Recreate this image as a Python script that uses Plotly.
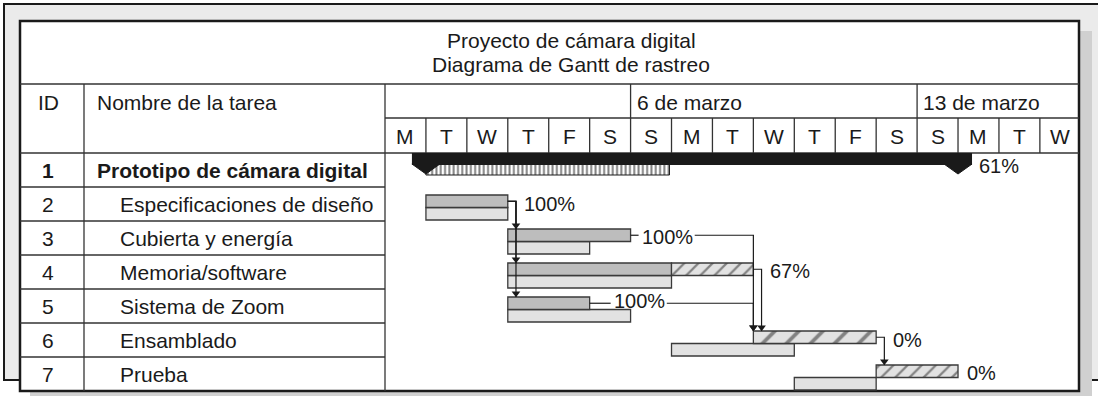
import plotly.graph_objects as go

# ---------------- data ----------------
title_lines = ["Proyecto de cámara digital", "Diagrama de Gantt de rastreo"]
header_id = "ID"
header_name = "Nombre de la tarea"
task_ids = [1, 2, 3, 4, 5, 6, 7]
task_names = ["Prototipo de cámara digital", "Especificaciones de diseño",
              "Cubierta y energía", "Memoria/software", "Sistema de Zoom",
              "Ensamblado", "Prueba"]
day_letters = ["M", "T", "W", "T", "F", "S", "S", "M", "T", "W", "T", "F", "S",
               "S", "M", "T", "W"]
week_labels = ["6 de marzo", "13 de marzo"]
week_start_day = [6, 13]

# days counted from the first Monday column (day 0)
act_start = [1, 1, 3, 3, 3, 9, 12]
act_done = [6.95, 3, 6, 7, 5, 9, 12]
act_end = [14, 3, 6, 9, 5, 12, 14]
base_start = [None, 1, 3, 3, 3, 7, 10]
base_end = [None, 3, 5, 7, 6, 10, 12]
pct_complete = [61, 100, 100, 67, 100, 0, 0]
links = [(2, 3), (2, 4), (2, 5), (3, 6), (4, 6), (5, 6), (6, 7)]

# ---------------- layout constants (pixels) ----------------
W, H = 1098, 396
X0, DAY = 385, 40.93      # timeline left edge, day width
Y0, ROW = 153, 34         # first task row top, row height
FONT = "Liberation Sans, Arial, Helvetica, sans-serif"
INK = "#1a1a1a"
GRID = "#333333"
FS = 21
LFS = 20
label_gap_px = [20, 15, 10, 16, 23, 16, 8]
label_dy_px = [13, 16.5, 16, 16, 11.5, 17, 15.5]
hatch_size = [10, 10, 10, 10, 10, 17, 10]


def xd(p):
    return (p - X0) / DAY


def yr(p):
    return (p - Y0) / ROW


def pw(p):
    return p / DAY


def ph(p):
    return p / ROW


shapes = []


def rect(x0, y0, x1, y1, fill, lc=None, lw=0):
    shapes.append(dict(type="rect", xref="x", yref="y", x0=xd(x0), x1=xd(x1),
                       y0=yr(y0), y1=yr(y1), fillcolor=fill,
                       line=dict(color=lc or fill, width=lw), layer="below"))


def seg(x0, y0, x1, y1, w=1.3, c=GRID):
    shapes.append(dict(type="line", xref="x", yref="y", x0=xd(x0), x1=xd(x1),
                       y0=yr(y0), y1=yr(y1), line=dict(color=c, width=w),
                       layer="below"))


# page behind, drop shadow, front sheet
rect(4, 4, 1120, 380, "#ebebeb", INK, 2)
rect(30, 31, 1092, 402, "#d0d0d0")
rect(20, 21, 1079, 391, "white", INK, 2.5)

# table grid
seg(20, 84, 1079, 84)
seg(X0, 118, 1079, 118)
seg(20, 153, 1079, 153)
for k in range(1, len(task_ids)):
    seg(20, Y0 + ROW * k, X0, Y0 + ROW * k)
seg(84, 84, 84, 391)
seg(X0, 84, X0, 391)
for k in range(1, len(day_letters)):
    seg(X0 + DAY * k, 118, X0 + DAY * k, 153)
for ws in week_start_day:
    seg(X0 + DAY * ws, 84, X0 + DAY * ws, 118)

annotations = []


def text(x, y, s, anchor="center", size=FS, **kw):
    annotations.append(dict(x=xd(x), y=yr(y), xref="x", yref="y", text=s,
                            showarrow=False, xanchor=anchor, yanchor="middle",
                            font=dict(family=FONT, size=size, color=INK), **kw))


text(571, 40, title_lines[0])
text(571, 64, title_lines[1])
text(48, 102, header_id)
text(95, 102, header_name, "left")
for lab, ws in zip(week_labels, week_start_day):
    text(X0 + DAY * ws + 4, 102, lab, "left")
for k, d in enumerate(day_letters):
    text(X0 + DAY * (k + 0.5), 136, d)
for i, (tid, name) in enumerate(zip(task_ids, task_names)):
    yc = Y0 + ROW * i + 17
    if i == 0:
        text(48, yc, f"<b>{tid}</b>")
        text(95, yc, f"<b>{name}</b>", "left")
    else:
        text(48, yc, str(tid))
        text(118, yc, name, "left")

fig = go.Figure()

# ---- summary task (row 1) ----
s, e, d = act_start[0], act_end[0], act_done[0]
cap = pw(14)
fig.add_trace(go.Bar(
    orientation="h", y=[ph(16.5)], base=[s], x=[d - s], width=[ph(11)],
    marker=dict(color="white", line=dict(color=INK, width=1),
                pattern=dict(shape="|", fgcolor="#000000", bgcolor="white",
                             size=4.3, solidity=0.45)),
    hoverinfo="skip"))
for c in (s, e):
    fig.add_trace(go.Scatter(
        x=[c - cap, c + cap, c, c - cap], y=[ph(11), ph(11), ph(21), ph(11)],
        mode="lines", fill="toself", fillcolor=INK,
        line=dict(color=INK, width=1), hoverinfo="skip"))
fig.add_trace(go.Bar(
    orientation="h", y=[ph(6)], base=[s - cap], x=[e - s + 2 * cap],
    width=[ph(12)], marker=dict(color=INK, line=dict(color=INK, width=0)),
    hoverinfo="skip"))

# ---- tasks ----
ACT_T, ACT_B, BASE_B = 8, 20.5, 33
act_mid = [i + ph((ACT_T + ACT_B) / 2) for i in range(len(task_ids))]
base_mid = [i + ph((ACT_B + BASE_B) / 2) for i in range(len(task_ids))]
bar_h = ph(12.5)
rows = range(1, len(task_ids))

solid = [i for i in rows if act_done[i] > act_start[i]]
hatch = [i for i in rows if act_end[i] > act_done[i]]
bline = [i for i in rows if base_start[i] is not None]

fig.add_trace(go.Bar(
    orientation="h", y=[base_mid[i] for i in bline],
    base=[base_start[i] for i in bline],
    x=[base_end[i] - base_start[i] for i in bline],
    width=[bar_h] * len(bline),
    marker=dict(color="#e2e2e2", line=dict(color="#3a3a3a", width=1.3)),
    hoverinfo="skip"))
fig.add_trace(go.Bar(
    orientation="h", y=[act_mid[i] for i in solid],
    base=[act_start[i] for i in solid],
    x=[act_done[i] - act_start[i] for i in solid],
    width=[bar_h] * len(solid),
    marker=dict(color="#bdbdbd", line=dict(color="#3a3a3a", width=1.3)),
    hoverinfo="skip"))
fig.add_trace(go.Bar(
    orientation="h", y=[act_mid[i] for i in hatch],
    base=[act_done[i] for i in hatch],
    x=[act_end[i] - act_done[i] for i in hatch],
    width=[bar_h] * len(hatch),
    marker=dict(color="#e2e2e2", line=dict(color="#3a3a3a", width=1.3),
                pattern=dict(shape="/", fgcolor="#222222", bgcolor="#e2e2e2",
                             size=[hatch_size[i] for i in hatch],
                             solidity=0.22)),
    hoverinfo="skip"))

# ---- percent label extents (pixels) ----
lab_x0, lab_x1 = [], []
for i, p in enumerate(pct_complete):
    end_px = X0 + DAY * act_end[i]
    x0 = end_px + label_gap_px[i]
    txt = f"{p}%"
    wpx = (0.556 * (len(txt) - 1) + 0.889) * LFS
    lab_x0.append(x0)
    lab_x1.append(x0 + wpx)

# ---- dependency links ----
lx, ly, ax, ay = [], [], [], []
for a, b in links:
    pa, pb = a - 1, b - 1
    x_from, y_from = act_end[pa], act_mid[pa]
    if act_start[pb] > act_end[pa] + 0.2:
        elbow = act_start[pb]
    else:
        elbow = act_end[pa] + 0.2
    top_b = pb + ph(ACT_T)
    if elbow > xd(lab_x1[pa]):
        # break the horizontal run around the percent label
        lx += [x_from, xd(lab_x0[pa] - 2), None]
        ly += [y_from, y_from, None]
        lx += [xd(lab_x1[pa] + 3), elbow, elbow, None]
        ly += [y_from, y_from, top_b, None]
    else:
        lx += [x_from, elbow, elbow, None]
        ly += [y_from, y_from, top_b, None]
    ax.append(elbow)
    ay.append(top_b - ph(3.5))
fig.add_trace(go.Scatter(x=lx, y=ly, mode="lines",
                         line=dict(color=INK, width=1.2), hoverinfo="skip"))
fig.add_trace(go.Scatter(x=ax, y=ay, mode="markers",
                         marker=dict(symbol="triangle-down", size=7.5, color=INK),
                         hoverinfo="skip"))

# ---- percent labels ----
for i, p in enumerate(pct_complete):
    annotations.append(dict(
        x=xd(lab_x0[i]), y=i + ph(label_dy_px[i]), xref="x", yref="y",
        text=f"{p}%", showarrow=False, xanchor="left", yanchor="middle",
        borderpad=0, font=dict(family=FONT, size=LFS, color=INK)))

fig.update_layout(
    width=W, height=H, margin=dict(l=0, r=0, t=0, b=0, pad=0),
    paper_bgcolor="white", plot_bgcolor="white",
    barmode="overlay", showlegend=False,
    xaxis=dict(range=[xd(0), xd(W)], visible=False, fixedrange=True),
    yaxis=dict(range=[yr(H), yr(0)], visible=False, fixedrange=True),
    shapes=shapes, annotations=annotations,
)

fig.write_html("out.html", config={"displayModeBar": False},
               post_script="document.body.style.margin='0px';")
